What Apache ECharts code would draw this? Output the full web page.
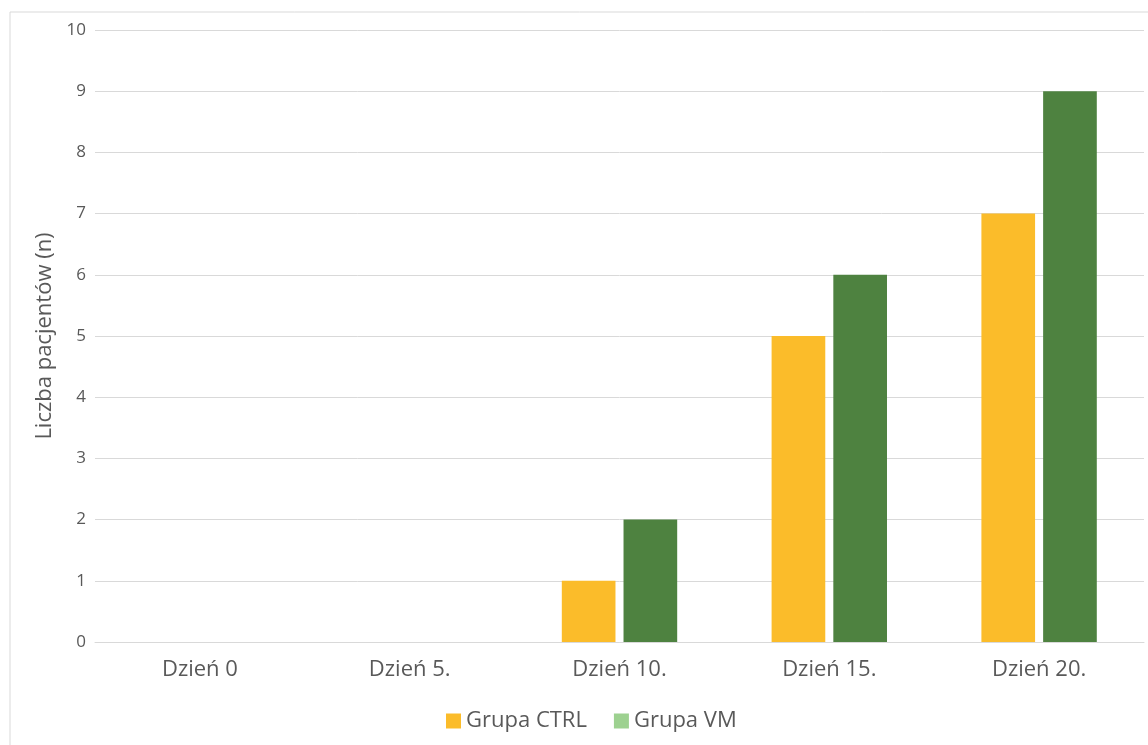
<!DOCTYPE html>
<html>
<head>
<meta charset="utf-8">
<script src="https://cdn.jsdelivr.net/npm/echarts@6/dist/echarts.min.js"></script>
<style>
  html, body { margin: 0; padding: 0; background: #fff; }
  #chart { width: 1148px; height: 745px; }
</style>
</head>
<body>
<div id="chart"></div>
<script>
// dane z wykresu
const categories = ['Dzień 0', 'Dzień 5.', 'Dzień 10.', 'Dzień 15.', 'Dzień 20.'];
const ctrlValues = [0, 0, 1, 5, 7];
const vmValues = [0, 0, 2, 6, 9];
const seriesNames = ['Grupa CTRL', 'Grupa VM'];

const myChart = echarts.init(document.getElementById('chart'));

myChart.setOption({
    animation: false,
    textStyle: {fontFamily: 'Open Sans'},
    // ramka wokół wykresu
    graphic: [{
        type: 'rect',
        shape: {x: 10, y: 12, width: 1160, height: 760},
        style: {fill: 'none', stroke: '#d9d9d9', lineWidth: 1},
        silent: true,
        z: -1
    }],
    grid: {left: 95, right: 4, top: 30, bottom: 103},
    legend: {
        bottom: 8,
        left: 441,
        itemWidth: 15,
        itemHeight: 15,
        itemGap: 27,
        textStyle: {color: '#595959', fontSize: 22, fontFamily: 'Open Sans'},
        data: [
            {name: seriesNames[0], icon: 'rect', itemStyle: {color: '#fbbc2a'}},
            {name: seriesNames[1], icon: 'rect', itemStyle: {color: '#9dd190'}}
        ]
    },
    xAxis: {
        type: 'category',
        data: categories,
        axisLine: {show: true, lineStyle: {color: '#d9d9d9'}},
        axisTick: {show: false},
        axisLabel: {color: '#595959', fontSize: 22, margin: 17}
    },
    yAxis: {
        type: 'value',
        min: 0,
        max: 10,
        interval: 1,
        name: 'Liczba pacjentów (n)',
        nameLocation: 'middle',
        nameGap: 32,
        nameTextStyle: {color: '#595959', fontSize: 22},
        axisLine: {show: false},
        axisTick: {show: false},
        axisLabel: {color: '#595959', fontSize: 17, margin: 9},
        splitLine: {lineStyle: {color: '#d9d9d9'}}
    },
    series: [
        {
            name: seriesNames[0],
            type: 'bar',
            data: ctrlValues,
            barGap: '15%',
            barCategoryGap: '45%',
            itemStyle: {color: '#fbbc2a'}
        },
        {
            name: seriesNames[1],
            type: 'bar',
            data: vmValues,
            itemStyle: {color: '#4e8240'}
        }
    ]
});
</script>
</body>
</html>
